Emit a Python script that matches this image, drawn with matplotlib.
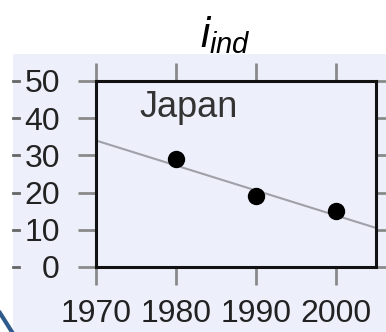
import matplotlib
matplotlib.use('Agg')
import matplotlib.pyplot as plt
import matplotlib.transforms as mtransforms
from matplotlib.lines import Line2D
from matplotlib.patches import Rectangle

# data
years = [1980, 1990, 2000]
values = [29, 19, 15]
trend_years = [1970, 2005]
trend_values = [34, 10.5]
xticks = [1970, 1980, 1990, 2000]
yticks = [0, 10, 20, 30, 40, 50]
country = 'Japan'

plt.rcParams['font.family'] = 'Liberation Sans'
plt.rcParams['mathtext.fontset'] = 'custom'
plt.rcParams['mathtext.it'] = 'Liberation Sans:italic'
plt.rcParams['mathtext.rm'] = 'Liberation Sans'

fig = plt.figure(figsize=(3.86, 3.32), dpi=100)
bg = '#edf0fb'

# slide background panel
fig.add_artist(Rectangle((13 / 386, 0), 1, 1 - 54 / 332, transform=fig.transFigure,
                         facecolor=bg, edgecolor='none', zorder=0))
# bit of slide decoration at bottom left
fig.add_artist(Line2D([0, 12 / 386], [19 / 332, 0], transform=fig.transFigure,
                      color='#2e5a8c', lw=3))

ax = fig.add_axes([96 / 386, 65 / 332, 280 / 386, 186 / 332])
ax.set_facecolor(bg)
ax.set_zorder(2)

ax.plot(trend_years, trend_values, color='#a0a0a8', lw=1.5, zorder=2)
ax.plot(years, values, 'o', color='black', ms=11.5, zorder=3)

ax.set_xlim(1970, 2005)
ax.set_ylim(0, 50)
ax.set_xticks(xticks)
ax.set_yticks(yticks)
ax.tick_params(direction='out', length=13, width=2, color='#8a8a8a',
               labelsize=23, labelcolor='#222222',
               top=True, right=True, labelright=False, labeltop=False)
ax.tick_params(axis='y', pad=13)
ax.tick_params(axis='x', pad=10)
for s in ax.spines.values():
    s.set_linewidth(2.2)
    s.set_color('#111111')

ax.text(0.33, 0.95, country, transform=ax.transAxes, ha='center', va='top',
        fontsize=26, color='#333333')

fig.text(0.585, 0.83, r'$i_{ind}$', ha='center', va='bottom', fontsize=30)

# right-side ticks of the neighbouring panel, cut off at the left edge
tr = mtransforms.blended_transform_factory(fig.transFigure, ax.transData)
for v in yticks:
    fig.add_artist(Line2D([13 / 386, 19 / 386], [v, v], transform=tr,
                          color='#666666', lw=2, clip_on=False))

fig.savefig('out.png', dpi=100)
